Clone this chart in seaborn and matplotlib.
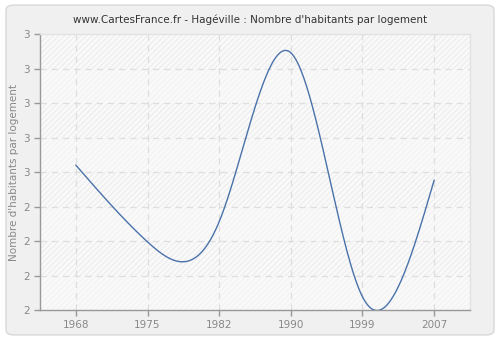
import numpy as np
import pandas as pd
import matplotlib
matplotlib.use("Agg")
import matplotlib.pyplot as plt
import seaborn as sns
from matplotlib.patches import FancyBboxPatch, Rectangle

years = ["1968", "1975", "1982", "1990", "1999", "2007"]
values = [2.525, 2.247, 2.320, 2.932, 2.048, 2.471]
ytick_values = [2 + k / 8 for k in range(9)]
ytick_labels = [str(int(v + 0.5)) for v in ytick_values]


def natural_spline(x, y, n=400):
    x = np.asarray(x, float)
    y = np.asarray(y, float)
    m = len(x)
    h = np.diff(x)
    A = np.zeros((m, m))
    b = np.zeros(m)
    A[0, 0] = 1
    A[-1, -1] = 1
    for i in range(1, m - 1):
        A[i, i - 1] = h[i - 1]
        A[i, i] = 2 * (h[i - 1] + h[i])
        A[i, i + 1] = h[i]
        b[i] = 3 * ((y[i + 1] - y[i]) / h[i] - (y[i] - y[i - 1]) / h[i - 1])
    c = np.linalg.solve(A, b)
    xs = np.linspace(x[0], x[-1], n)
    ys = np.empty_like(xs)
    for j, xv in enumerate(xs):
        i = min(np.searchsorted(x, xv, side="right") - 1, m - 2)
        dx = xv - x[i]
        bi = (y[i + 1] - y[i]) / h[i] - h[i] * (2 * c[i] + c[i + 1]) / 3
        di = (c[i + 1] - c[i]) / (3 * h[i])
        ys[j] = y[i] + bi * dx + c[i] * dx ** 2 + di * dx ** 3
    return xs, ys


idx = np.arange(len(years))
xs, ys = natural_spline(idx, values)
df = pd.DataFrame({"pos": xs, "val": ys})

sns.set_theme(style="white")
plt.rcParams["font.family"] = ["DejaVu Sans"]
plt.rcParams["hatch.linewidth"] = 0.6

fig = plt.figure(figsize=(5.0, 3.4), dpi=100)
fig.patch.set_facecolor("white")
fig.patches.append(FancyBboxPatch((0.012, 0.015), 0.976, 0.97,
                                  boxstyle="round,pad=0,rounding_size=0.015",
                                  transform=fig.transFigure, facecolor="#f0f0f0",
                                  edgecolor="#d8d8d8", linewidth=1, zorder=-5))

ax = fig.add_axes([0.08, 0.088, 0.86, 0.812])
ax.set_zorder(2)
ax.set_facecolor("#f9f9f9")
ax.set_xlim(-0.5, 5.5)
ax.set_ylim(2.0, 3.0)

for k in range(8):
    strong = (k % 2 == 1)
    ax.add_patch(Rectangle((-0.5, ytick_values[k]), 6, 1 / 8,
                           facecolor="#f9f9f9",
                           edgecolor="#e9e9e9" if strong else "#f1f1f1",
                           hatch="//////", linewidth=0, zorder=0))

sns.lineplot(data=df, x="pos", y="val", ax=ax, color="#4a72aa", linewidth=1.0,
             zorder=3, estimator=None, sort=False)

ax.set_xlim(-0.5, 5.5)
ax.set_ylim(2.0, 3.0)
ax.set_xticks(idx)
ax.set_xticklabels(years)
ax.set_yticks(ytick_values)
ax.set_yticklabels(ytick_labels)

for v in ytick_values[1:-1]:
    ax.axhline(v, color="#dedede", linestyle=(0, (5, 4)), linewidth=0.9, zorder=1)
for p in idx:
    ax.axvline(p, color="#dedede", linestyle=(0, (5, 4)), linewidth=0.9, zorder=1)

for s in ["top", "right"]:
    ax.spines[s].set_color("#e2e2e2")
    ax.spines[s].set_linewidth(1)
for s in ["left", "bottom"]:
    ax.spines[s].set_color("#999999")
    ax.spines[s].set_linewidth(1)

ax.tick_params(axis="both", which="both", length=4, width=1, color="#999999",
               labelcolor="#888888", labelsize=7.5, direction="out",
               left=True, bottom=True, pad=3)
ax.set_xlabel("")
ax.set_ylabel("Nombre d'habitants par logement", color="#888888", fontsize=7.5, labelpad=3)
fig.text(0.5, 0.942, "www.CartesFrance.fr - Hagéville : Nombre d'habitants par logement",
         ha="center", va="center", fontsize=7.5, color="#333333", zorder=3)

fig.savefig("out.png", dpi=100, facecolor=fig.get_facecolor())
